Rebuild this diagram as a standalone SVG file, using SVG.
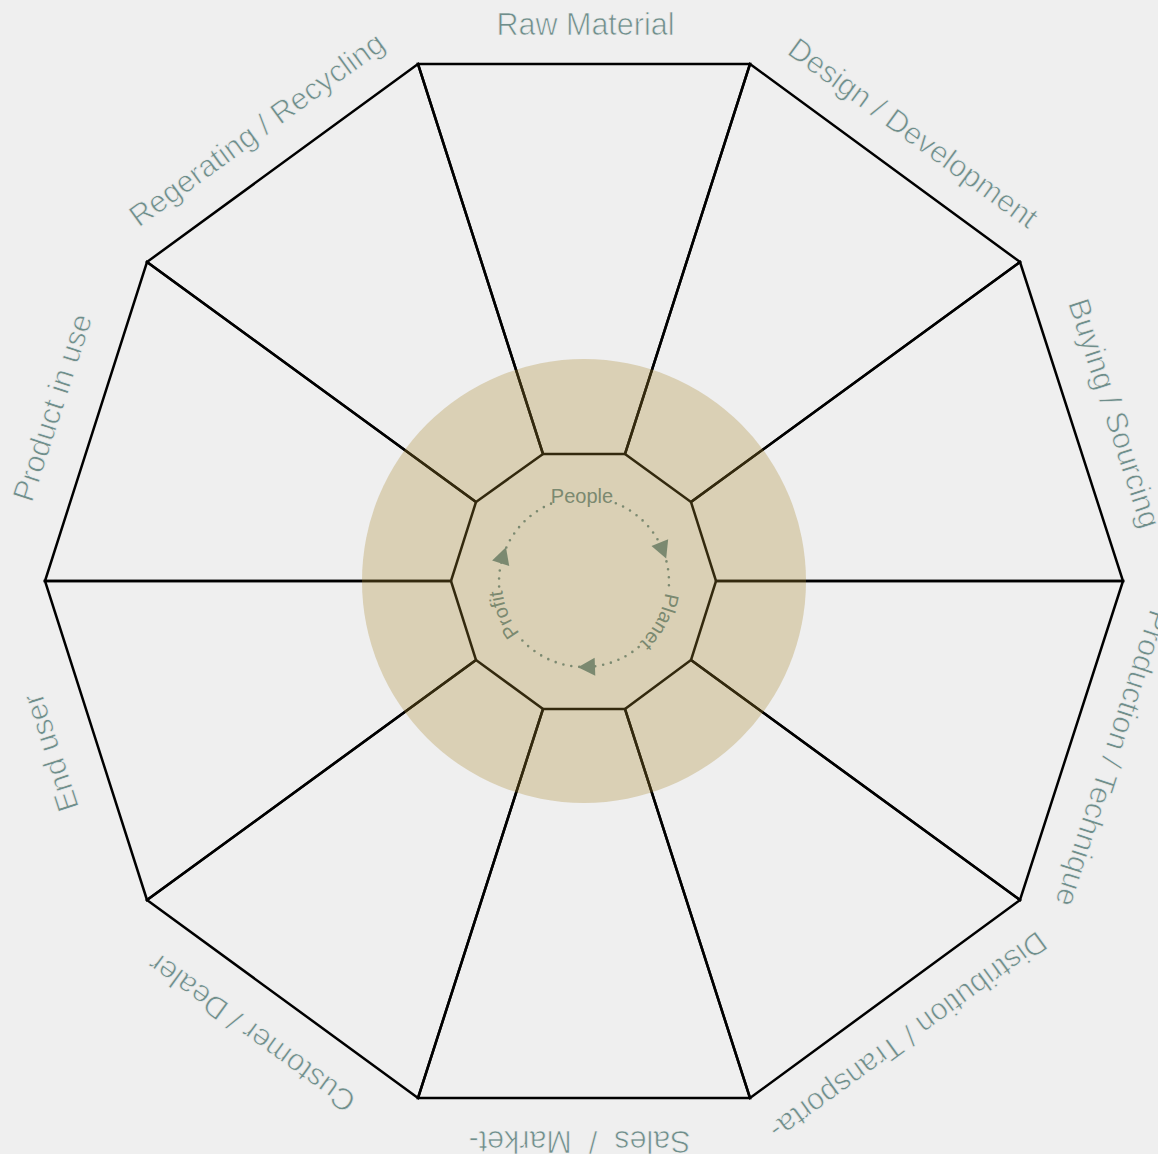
<svg xmlns="http://www.w3.org/2000/svg" width="1158" height="1154" viewBox="0 0 1158 1154">
<defs>
<style>
.sector{fill:none;stroke:#000;stroke-width:2.5;stroke-linejoin:miter}
.label{font-family:"Liberation Sans",Arial,Helvetica,sans-serif;font-size:30.5px;fill:#6f8e8b;stroke:#efefef;stroke-width:0.7;text-anchor:middle}
.cyc{font-family:"Liberation Sans",Arial,Helvetica,sans-serif;font-size:20px;fill:#7b8970;text-anchor:middle}
.dots{fill:none;stroke:#7b8970;stroke-width:2.6;stroke-linecap:round;stroke-dasharray:0 8}
.arrow{fill:#7b8970}
</style>
<path id="arrowhead" d="M9,0 L-8,-9 L-8,9 Z"/>
<path id="ring" d="M584,664 A82,82 0 1 1 584,500 A82,82 0 1 1 584,664"/>
</defs>
<rect x="0" y="0" width="1158" height="1154" fill="#efefef"/>
<g id="sector-raw-material">
<polygon class="sector" points="418,64 750,64 625,454 543,454"/>
<text class="label" x="585.5" y="35" transform="rotate(0 582.5 583)">Raw Material</text>
</g>
<g id="sector-design-development">
<polygon class="sector" points="750,64 1020,262 691,502 625,454"/>
<text class="label" x="585.5" y="35" transform="rotate(36 582.5 583)">Design / Development</text>
</g>
<g id="sector-buying-sourcing">
<polygon class="sector" points="1020,262 1123,581 716,581 691,502"/>
<text class="label" x="585.5" y="35" transform="rotate(72 582.5 583)">Buying / Sourcing</text>
</g>
<g id="sector-production-technique">
<polygon class="sector" points="1123,581 1020,900 691,660 716,581"/>
<text class="label" x="585.5" y="35" transform="rotate(108 582.5 583)">Production / Technique</text>
</g>
<g id="sector-distribution-transport">
<polygon class="sector" points="1020,900 750,1098 625,709 691,660"/>
<text class="label" x="585.5" y="35" transform="rotate(144 582.5 583)">Distribution / Transporta-</text>
</g>
<g id="sector-sales-market">
<polygon class="sector" points="750,1098 418,1098 543,709 625,709"/>
<text class="label" x="585.5" y="35" transform="rotate(180 582.5 583)">Sales &#160;/ &#160;Market-</text>
</g>
<g id="sector-customer-dealer">
<polygon class="sector" points="418,1098 147,900 476,660 543,709"/>
<text class="label" x="585.5" y="35" transform="rotate(216 582.5 583)">Customer / Dealer</text>
</g>
<g id="sector-end-user">
<polygon class="sector" points="147,900 45,581 451,581 476,660"/>
<text class="label" x="585.5" y="35" transform="rotate(252 582.5 583)">End user</text>
</g>
<g id="sector-product-in-use">
<polygon class="sector" points="45,581 147,262 476,502 451,581"/>
<text class="label" x="585.5" y="35" transform="rotate(288 582.5 583)">Product in use</text>
</g>
<g id="sector-regenerating-recycling">
<polygon class="sector" points="147,262 418,64 543,454 476,502"/>
<text class="label" x="585.5" y="35" transform="rotate(324 582.5 583)">Regerating / Recycling</text>
</g>
<g id="core">
<circle cx="584" cy="581" r="222" fill="rgb(170,135,45)" fill-opacity="0.3"/>
</g>
<g id="connectors">
<path class="dots" d="M615.84,503.19 A85,85 0 0 1 668.79,587.93"/>
<path class="dots" d="M638.64,647.11 A85,85 0 0 1 520.83,638.88"/>
<path class="dots" d="M499.12,586.45 A85,85 0 0 1 552.16,503.19"/>
<use class="arrow" href="#arrowhead" transform="translate(584 582) rotate(68) translate(0 -85)"/>
<use class="arrow" href="#arrowhead" transform="translate(584 582) rotate(178) translate(0 -85)"/>
<use class="arrow" href="#arrowhead" transform="translate(584 582) rotate(288) translate(0 -85)"/>
</g>
<g id="node-people">
<text class="cyc" x="582" y="503">People</text>
</g>
<g id="node-planet">
<text class="cyc"><textPath href="#ring" startOffset="425">Planet</textPath></text>
</g>
<g id="node-profit">
<text class="cyc"><textPath href="#ring" startOffset="97">Profit</textPath></text>
</g>
</svg>
